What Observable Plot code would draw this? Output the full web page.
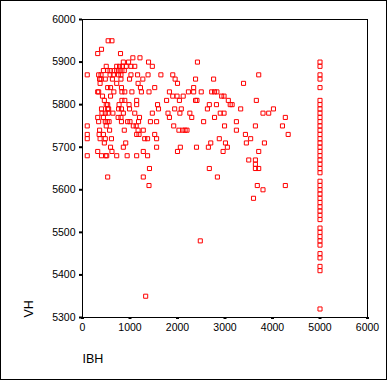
<!DOCTYPE html>
<html><head><meta charset="utf-8">
<script src="https://cdn.jsdelivr.net/npm/d3@7"></script>
<script src="https://cdn.jsdelivr.net/npm/@observablehq/plot@0.6"></script>
<style>
html,body{margin:0;padding:0;background:#fff;}
#chart{position:relative;width:387px;height:380px;}
#chart svg{display:block;}
#border{position:absolute;left:0;top:0;width:387px;height:380px;box-sizing:border-box;border:1px solid #000;pointer-events:none;}
</style></head><body><div id="chart"><div id="border"></div></div>
<script>
// Scatter points [IBH, VH]
const scatterPoints = [
  [540,5950],[620,5950],
  [400,5930],
  [320,5920],[800,5920],
  [1060,5910],[1210,5910],
  [860,5900],[970,5900],[1390,5900],[2420,5900],
  [500,5890],[720,5890],[780,5890],[840,5890],[920,5890],[1020,5890],[1100,5890],[1470,5890],
  [440,5880],[530,5880],[580,5880],[670,5880],[720,5880],[770,5880],[830,5880],[880,5880],
  [100,5870],[340,5870],[390,5870],[580,5870],[650,5870],[760,5870],[810,5870],[1020,5870],[1160,5870],[1380,5870],[1650,5870],[1900,5870],[3710,5870],
  [360,5860],[390,5860],[480,5860],[630,5860],[810,5860],[990,5860],[1270,5860],[1950,5860],[2380,5860],[2760,5860],
  [370,5850],[720,5850],[1170,5850],[2000,5850],[3390,5850],
  [530,5840],[590,5840],[820,5840],[1220,5840],[1520,5840],[2340,5840],
  [320,5830],[340,5830],[660,5830],[830,5830],[890,5830],[1040,5830],[1240,5830],[1400,5830],[1830,5830],[2230,5830],[2340,5830],[2500,5830],[2720,5830],[2780,5830],[2830,5830],
  [420,5820],[590,5820],[1900,5820],[1990,5820],[2120,5820],[2930,5820],[2980,5820],
  [460,5810],[830,5810],[890,5810],[1140,5810],[1770,5810],[2040,5810],[2380,5810],[2410,5810],[3070,5810],[3660,5810],
  [500,5800],[530,5800],[770,5800],[980,5800],[1140,5800],[1580,5800],[2670,5800],[2820,5800],[3110,5800],[3150,5800],
  [400,5790],[530,5790],[550,5790],[760,5790],[820,5790],[990,5790],[1600,5790],[1940,5790],[2080,5790],[2630,5790],[3330,5790],[4020,5790],
  [410,5780],[480,5780],[540,5780],[640,5780],[860,5780],[1100,5780],[1470,5780],[1800,5780],[2050,5780],[2260,5780],[2900,5780],[2980,5780],[3800,5780],[3920,5780],
  [320,5770],[440,5770],[750,5770],[810,5770],[1200,5770],[1830,5770],[2300,5770],[2780,5770],[4270,5770],
  [340,5760],[480,5760],[520,5760],[560,5760],[820,5760],[950,5760],[1000,5760],[1180,5760],[1430,5760],[1560,5760],[2550,5760],[3240,5760],
  [100,5750],[500,5750],[1070,5750],[1130,5750],[1920,5750],[2990,5750],[3640,5750],[4210,5750],
  [360,5740],[570,5740],[880,5740],[1170,5740],[1280,5740],[2030,5740],[2110,5740],[2160,5740],[2200,5740],[3240,5740],
  [100,5730],[350,5730],[440,5730],[1140,5730],[1190,5730],[1520,5730],[3430,5730],[4330,5730],
  [100,5720],[370,5720],[480,5720],[610,5720],[1310,5720],[1370,5720],[1560,5720],[2880,5720],[3540,5720],
  [460,5710],[910,5710],[2700,5710],[3010,5710],[3450,5710],[3830,5710],
  [590,5700],[860,5700],[1560,5700],[2060,5700],[2400,5700],[2650,5700],[3050,5700],
  [320,5690],[620,5690],[1280,5690],[2000,5690],[2960,5690],[3710,5690],
  [100,5680],[400,5680],[490,5680],[510,5680],[720,5680],[940,5680],[1140,5680],[1370,5680],
  [3500,5670],[3640,5670],
  [3640,5660],
  [1410,5650],[2670,5650],[3640,5650],[3710,5650],
  [530,5630],[1280,5630],[2840,5630],
  [1400,5610],[3680,5610],[4270,5610],
  [3800,5600],
  [3600,5580],
  [2480,5480],
  [1330,5350]
];
// Points at IBH = 5000 (VH values)
const cappedIBH = 5000;
const cappedVH = [5900,5890,5870,5860,5840,5810,5800,5790,5780,5770,5760,5750,5740,5730,5720,5710,5700,5690,5680,5670,5660,5650,5640,5620,5610,5600,5590,5580,5570,5560,5550,5540,5530,5510,5500,5490,5480,5470,5450,5440,5420,5410,5320];
const xTicks = [0,1000,2000,3000,4000,5000,6000];
const yTicks = [5300,5400,5500,5600,5700,5800,5900,6000];

const points = scatterPoints.map(([ibh, vh]) => ({ibh, vh}))
  .concat(cappedVH.map(vh => ({ibh: cappedIBH, vh})));

const chart = Plot.plot({
  width: 387, height: 380,
  marginLeft: 82, marginRight: 20, marginTop: 19, marginBottom: 63,
  style: {fontFamily: "'Liberation Sans', Arial, sans-serif", fontSize: "10.5px", color: "#000", background: "#fff"},
  x: {domain: [0, 6000]},
  y: {domain: [5300, 6000]},
  marks: [
    Plot.dot(points, {x: "ibh", y: "vh", symbol: "square", r: 2.3, stroke: "#ff0000", fill: "none", strokeWidth: 1}),
    Plot.frame({stroke: "#000"}),
    Plot.axisX({ticks: xTicks, tickSize: 2, tickPadding: 4, strokeWidth: 3, label: null, tickFormat: d => String(d)}),
    Plot.axisY({ticks: yTicks, tickSize: 3, tickPadding: 4, strokeWidth: 2, label: null, tickFormat: d => String(d)}),
    Plot.text(["VH"], {frameAnchor: "bottom-left", text: d => d, rotate: -90, textAnchor: "start", dx: -50, fontSize: 12.5}),
    Plot.text(["IBH"], {frameAnchor: "bottom-left", text: d => d, textAnchor: "start", dy: 45, fontSize: 12.5})
  ]
});
document.getElementById("chart").prepend(chart);
</script></body></html>
